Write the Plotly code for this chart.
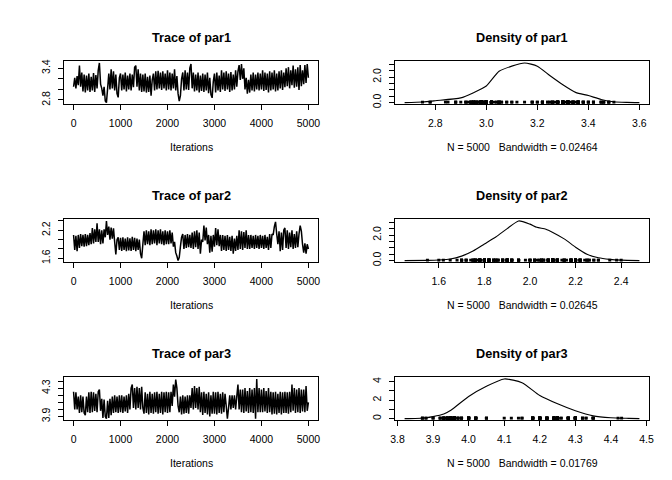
import numpy as np
import plotly.graph_objects as go

# MCMC samples, one value every 25 iterations
iterations = np.arange(0, 5001, 25)

par1 = [
    3.05, 3.22, 3.02, 3.25, 3.08, 3.45, 3.05, 3.32, 2.96, 3.28, 2.94, 3.26, 2.98, 3.30, 2.95, 3.24, 2.98, 3.31, 2.95, 3.27,
    3.02, 3.36, 3.50, 3.10, 3.02, 2.88, 3.05, 2.78, 2.75, 3.02, 3.30, 3.00, 3.38, 3.02, 3.34, 2.98, 3.28, 2.92, 2.85, 3.22,
    3.30, 2.98, 3.28, 3.00, 3.32, 2.96, 3.26, 3.00, 3.30, 2.98, 3.28, 3.04, 3.42, 3.45, 3.05, 3.38, 2.98, 3.30, 2.95, 3.28,
    2.96, 3.30, 2.94, 3.24, 2.95, 3.26, 2.88, 3.18, 3.30, 2.98, 3.34, 3.00, 3.35, 3.02, 3.32, 2.99, 3.34, 3.02, 3.30, 2.98,
    3.36, 3.00, 3.32, 2.98, 3.30, 3.02, 3.38, 2.98, 3.25, 2.92, 2.78, 2.88, 3.20, 3.32, 2.98, 3.36, 3.00, 3.32, 2.99, 3.40,
    3.48, 3.02, 3.32, 2.96, 3.28, 2.98, 3.32, 2.94, 3.26, 2.97, 3.30, 2.95, 3.28, 2.98, 3.32, 2.93, 3.22, 2.90, 2.84, 3.15,
    3.30, 2.94, 3.32, 2.98, 3.26, 2.95, 3.36, 3.00, 3.32, 2.97, 3.34, 3.00, 3.30, 2.95, 3.33, 2.98, 3.28, 3.00, 3.36, 3.05,
    3.34, 3.46, 3.18, 3.48, 3.20, 3.40, 3.00, 3.22, 2.92, 3.18, 2.94, 3.28, 2.98, 3.32, 2.96, 3.28, 3.00, 3.32, 2.98, 3.30,
    3.00, 3.36, 2.97, 3.32, 2.99, 3.30, 2.94, 3.34, 2.98, 3.32, 3.00, 3.36, 2.96, 3.30, 2.98, 3.34, 3.02, 3.36, 2.99, 3.32,
    3.04, 3.40, 3.06, 3.42, 3.02, 3.36, 3.08, 3.45, 3.03, 3.38, 3.05, 3.42, 2.99, 3.46, 3.06, 3.36, 3.10, 3.46, 3.12, 3.48,
    3.22,
]
par2 = [
    2.10, 1.78, 2.08, 1.75, 2.10, 1.82, 2.12, 1.86, 2.10, 1.85, 2.12, 1.86, 2.10, 1.88, 2.14, 1.90, 2.25, 1.92, 2.22, 1.95,
    2.35, 1.95, 2.22, 1.90, 2.20, 1.92, 2.22, 2.05, 2.40, 2.10, 2.28, 2.00, 2.26, 2.02, 2.24, 1.95, 1.68, 2.00, 2.05, 1.78,
    2.04, 1.76, 2.05, 1.78, 2.02, 1.75, 2.05, 1.77, 2.03, 1.76, 2.06, 1.78, 2.04, 1.75, 2.02, 1.78, 2.00, 1.70, 1.60, 1.90,
    2.18, 1.88, 2.20, 1.90, 2.18, 1.88, 2.22, 1.90, 2.20, 1.92, 2.22, 1.88, 2.20, 1.92, 2.22, 1.90, 2.18, 1.88, 2.20, 1.90,
    2.18, 1.90, 2.20, 1.92, 2.15, 1.85, 1.95, 1.72, 1.65, 1.55, 1.62, 1.85, 2.05, 2.12, 1.80, 2.10, 1.82, 2.12, 1.84, 2.10,
    1.82, 2.15, 1.80, 2.18, 1.84, 2.20, 1.80, 2.15, 1.70, 2.00, 1.95, 2.30, 1.98, 2.26, 1.90, 2.10, 1.72, 2.08, 1.74, 2.10,
    1.85, 2.25, 1.88, 2.22, 1.86, 2.10, 1.76, 2.10, 1.78, 2.08, 1.76, 2.10, 1.78, 2.06, 1.76, 2.08, 1.70, 2.02, 1.76, 2.08,
    1.78, 2.20, 1.80, 2.18, 1.78, 2.16, 1.82, 2.20, 1.80, 2.10, 1.80, 2.10, 1.82, 2.08, 1.80, 2.10, 1.82, 2.08, 1.80, 2.10,
    1.82, 2.08, 1.80, 2.10, 1.82, 2.06, 1.78, 2.12, 1.82, 2.12, 2.10, 2.28, 2.38, 2.12, 1.90, 2.18, 1.75, 2.15, 1.78, 2.20,
    2.25, 1.82, 2.20, 1.80, 2.15, 1.84, 2.20, 1.80, 2.12, 1.82, 2.18, 1.84, 2.12, 2.30, 2.18, 1.90, 1.72, 1.92, 1.70, 1.90,
    1.80,
]
par3 = [
    4.25, 4.00, 4.24, 4.00, 4.18, 3.95, 4.20, 3.96, 4.18, 3.95, 3.92, 4.18, 3.96, 4.24, 3.95, 4.25, 3.96, 4.24, 3.98, 4.22,
    3.96, 4.25, 4.28, 3.98, 4.15, 3.88, 4.14, 3.90, 3.87, 4.12, 3.88, 4.15, 3.92, 4.18, 3.95, 4.20, 3.96, 4.18, 3.95, 4.20,
    3.96, 4.20, 3.95, 4.18, 3.97, 4.20, 3.95, 4.22, 4.00, 4.30, 4.35, 4.02, 4.30, 4.00, 4.32, 4.02, 4.30, 4.00, 4.32, 4.02,
    3.94, 4.24, 3.95, 4.22, 3.93, 4.25, 3.95, 4.22, 3.94, 4.24, 3.96, 4.25, 3.94, 4.22, 3.95, 4.25, 3.93, 4.24, 3.96, 4.25,
    3.95, 4.24, 3.96, 4.25, 4.05, 4.35, 4.18, 4.42, 4.30, 4.05, 3.96, 4.18, 3.93, 4.20, 3.94, 4.18, 3.95, 4.20, 3.94, 4.20,
    4.02, 4.30, 4.00, 4.33, 4.02, 4.30, 4.00, 4.32, 3.96, 4.24, 3.92, 4.25, 3.95, 4.22, 3.93, 4.24, 3.90, 4.20, 3.94, 4.25,
    3.94, 4.24, 3.93, 4.25, 3.95, 4.22, 3.94, 4.24, 3.96, 4.22, 4.05, 3.87, 4.02, 4.20, 4.00, 4.20, 4.02, 4.20, 4.00, 4.18,
    4.35, 4.00, 4.28, 3.96, 4.28, 3.95, 4.30, 3.97, 4.26, 3.95, 4.30, 3.96, 4.28, 3.95, 4.30, 3.87, 4.43, 3.96, 4.30, 3.96,
    4.28, 3.96, 4.30, 3.97, 4.26, 3.95, 4.30, 3.96, 4.25, 3.93, 4.24, 3.94, 4.25, 3.93, 4.22, 3.95, 4.25, 3.93, 4.24, 3.95,
    4.25, 3.95, 4.24, 3.94, 4.25, 3.96, 4.35, 3.98, 4.30, 3.95, 4.28, 3.96, 4.30, 3.95, 4.28, 3.97, 4.28, 3.96, 4.33, 3.98,
    4.10,
]

# kernel density curves
dens1_x = [2.68, 2.75, 2.80, 2.90, 2.95, 3.00, 3.05, 3.10, 3.15, 3.20, 3.25, 3.30, 3.35, 3.40, 3.45, 3.50, 3.55, 3.60]
dens1_y = [0.00, 0.05, 0.15, 0.37, 0.78, 1.30, 2.45, 2.85, 3.10, 2.85, 2.10, 1.40, 0.80, 0.55, 0.25, 0.07, 0.02, 0.00]
dens2_x = [1.45, 1.55, 1.60, 1.65, 1.70, 1.75, 1.80, 1.85, 1.90, 1.95, 2.00, 2.03, 2.07, 2.10, 2.15, 2.20, 2.25, 2.30, 2.35, 2.40, 2.48]
dens2_y = [0.00, 0.02, 0.05, 0.12, 0.35, 0.75, 1.30, 1.85, 2.50, 3.10, 2.85, 2.60, 2.45, 2.20, 1.70, 1.05, 0.50, 0.22, 0.10, 0.04, 0.00]
dens3_x = [3.82, 3.85, 3.88, 3.90, 3.93, 3.95, 4.00, 4.05, 4.10, 4.15, 4.20, 4.25, 4.30, 4.35, 4.40, 4.45, 4.48]
dens3_y = [0.00, 0.02, 0.10, 0.22, 0.50, 0.90, 2.40, 3.50, 4.30, 3.90, 2.50, 1.60, 0.85, 0.30, 0.10, 0.03, 0.00]

names = ["par1", "par2", "par3"]
bandwidths = ["0.02464", "0.02645", "0.01769"]
n_samples = 5000

trace_ticks = [[2.8, 3.0, 3.2, 3.4], [1.6, 1.8, 2.0, 2.2, 2.4], [3.9, 4.0, 4.1, 4.2, 4.3, 4.4]]
trace_ticktext = [["2.8", "", "", "3.4"], ["1.6", "", "", "2.2", ""], ["3.9", "", "", "", "4.3", ""]]
dens_xticks = [[2.8, 3.0, 3.2, 3.4, 3.6], [1.6, 1.8, 2.0, 2.2, 2.4], [3.8, 3.9, 4.0, 4.1, 4.2, 4.3, 4.4, 4.5]]
dens_yticks = [[0, 0.5, 1, 1.5, 2, 2.5, 3], [0, 0.5, 1, 1.5, 2, 2.5, 3], [0, 1, 2, 3, 4]]
dens_yticktext = [["0.0", "", "", "", "2.0", "", ""], ["0.0", "", "", "", "2.0", "", ""], ["0", "", "2", "", "4"]]

samples = [par1, par2, par3]
dens = [(dens1_x, dens1_y), (dens2_x, dens2_y), (dens3_x, dens3_y)]

W, H = 672, 480
FONT = "Liberation Sans, Arial, Helvetica, sans-serif"


def pad(lo, hi):
    d = (hi - lo) * 0.04
    return [lo - d, hi + d]


fig = go.Figure()
axis_common = dict(
    showgrid=False, zeroline=False, showline=True, mirror=True,
    linecolor="black", linewidth=1, ticks="outside", ticklen=5,
    tickcolor="black", tickwidth=1,
    tickfont=dict(family=FONT, size=10.5, color="black"),
)

annotations = []
for r in range(3):
    off = 160 * r
    top = 1 - (52 + off) / H
    bot = 1 - (95.4 + off) / H
    s = samples[r]
    dx, dy = dens[r]

    # trace panel
    ax_t = 2 * r + 1
    ax_d = 2 * r + 2
    fig.add_trace(go.Scatter(
        x=iterations, y=s, mode="lines",
        line=dict(color="black", width=1.5, simplify=False),
        xaxis=f"x{ax_t}", yaxis=f"y{ax_t}", showlegend=False,
    ))
    fig.update_layout({
        f"xaxis{ax_t}": dict(axis_common, domain=[52 / W, 309.4 / W], anchor=f"y{ax_t}",
                             range=pad(1, 5000), tickvals=[0, 1000, 2000, 3000, 4000, 5000],
                             ticklabelstandoff=4),
        f"yaxis{ax_t}": dict(axis_common, domain=[bot, top], anchor=f"x{ax_t}",
                             range=pad(min(s), max(s)), tickvals=trace_ticks[r],
                             ticktext=trace_ticktext[r], tickangle=-90, ticklabelstandoff=4),
    })

    # density panel with rug of the sampled values
    ymax = max(dy)
    rug_x, rug_y = [], []
    for v in s:
        rug_x += [v, v, None]
        rug_y += [-ymax * 0.02, ymax * 0.05, None]
    fig.add_trace(go.Scatter(
        x=rug_x, y=rug_y, mode="lines",
        line=dict(color="black", width=3, simplify=False),
        xaxis=f"x{ax_d}", yaxis=f"y{ax_d}", showlegend=False,
    ))
    fig.add_trace(go.Scatter(
        x=dx, y=dy, mode="lines",
        line=dict(color="black", width=1.1, shape="spline", smoothing=0.6),
        xaxis=f"x{ax_d}", yaxis=f"y{ax_d}", showlegend=False,
    ))
    fig.update_layout({
        f"xaxis{ax_d}": dict(axis_common, domain=[388 / W, 645.4 / W], anchor=f"y{ax_d}",
                             range=pad(min(dx), max(dx)), tickvals=dens_xticks[r],
                             tickformat=".1f", ticklabelstandoff=4),
        f"yaxis{ax_d}": dict(axis_common, domain=[bot, top], anchor=f"x{ax_d}",
                             range=pad(0, ymax), tickvals=dens_yticks[r],
                             ticktext=dens_yticktext[r], tickangle=-90, ticklabelstandoff=4),
    })

    # titles and axis labels
    for cx, title, xlab in [
        (180.7, f"Trace of {names[r]}", "Iterations"),
        (516.7, f"Density of {names[r]}", f"N = {n_samples}   Bandwidth = {bandwidths[r]}"),
    ]:
        annotations.append(dict(
            x=cx / W, y=1 - (28 + off) / H, xref="paper", yref="paper",
            text=f"<b>{title}</b>", showarrow=False, xanchor="center", yanchor="middle",
            font=dict(family=FONT, size=12.7, color="black"),
        ))
        annotations.append(dict(
            x=cx / W, y=1 - (139 + off) / H, xref="paper", yref="paper",
            text=xlab, showarrow=False, xanchor="center", yanchor="middle",
            font=dict(family=FONT, size=10.5, color="black"),
        ))

fig.update_layout(
    width=W, height=H, margin=dict(l=0, r=0, t=0, b=0),
    paper_bgcolor="white", plot_bgcolor="white",
    annotations=annotations,
)
fig.write_html("out.html")
